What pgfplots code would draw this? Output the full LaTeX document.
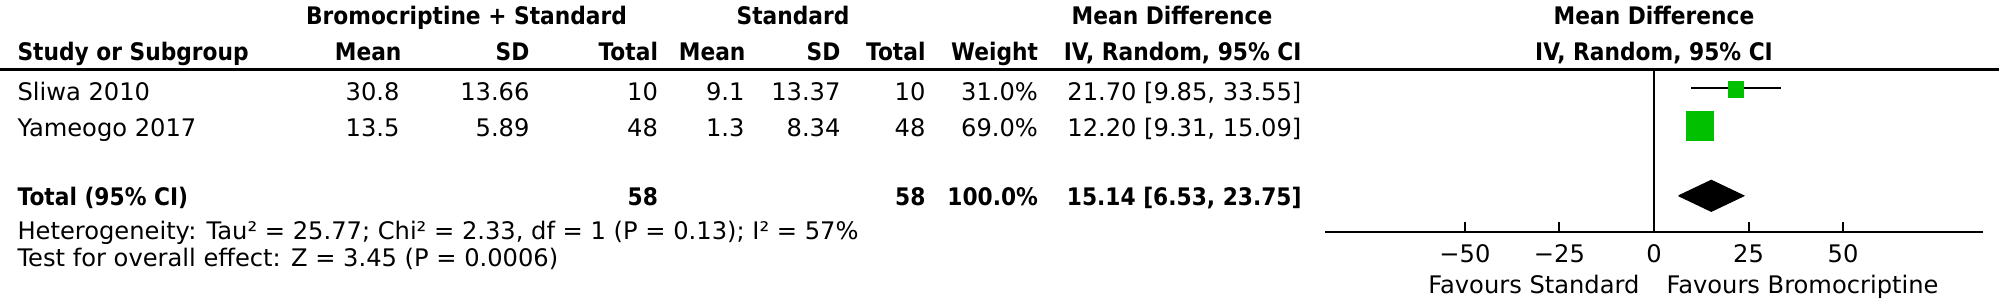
\documentclass[border=0pt]{standalone}
\usepackage{fontspec}
\setmainfont{DejaVu Sans}[BoldFeatures={FakeStretch=0.9}]
\usepackage{pgfplots}
\pgfplotsset{compat=1.18}
\definecolor{boxgreen}{RGB}{0,192,0}
\tikzset{
  txt/.style={inner sep=0pt, font=\fontsize{8.7}{10}\selectfont},
  bt/.style={inner sep=0pt, font=\fontsize{8.7}{10}\selectfont\bfseries},
  L/.style={anchor=base west}, R/.style={anchor=base east}, C/.style={anchor=base},
}
\begin{document}
\begin{tikzpicture}
\begin{scope}[x=0.36pt,y=-0.36pt]
\path[use as bounding box] (0,0) rectangle (1999,305);
\draw[line width=0.95pt] (0,69.5) -- (1999,69.5);
% header row 1
\node[bt,C] at (466.5,25) {Bromocriptine + Standard};
\node[bt,C] at (793,25) {Standard};
\node[bt,C] at (1172,25) {Mean Difference};
\node[bt,C] at (1654,25) {Mean Difference};
% header row 2
\node[bt,L] at (17,60) {Study or Subgroup};
\node[bt,R] at (402,60) {Mean};
\node[bt,R] at (530,60) {SD};
\node[bt,R] at (658.5,60) {Total};
\node[bt,R] at (746,60) {Mean};
\node[bt,R] at (841,60) {SD};
\node[bt,R] at (926,60) {Total};
\node[bt,R] at (1038.5,60) {Weight};
\node[bt,R] at (1302,60) {IV, Random, 95\% CI};
\node[bt,C] at (1654,60) {IV, Random, 95\% CI};
% study rows
\node[txt,L] at (17,100.5) {Sliwa 2010};
\node[txt,R] at (400,100.5) {30.8};
\node[txt,R] at (530,100.5) {13.66};
\node[txt,R] at (658.5,100.5) {10};
\node[txt,R] at (745,100.5) {9.1};
\node[txt,R] at (841,100.5) {13.37};
\node[txt,R] at (926,100.5) {10};
\node[txt,R] at (1038.5,100.5) {31.0\%};
\node[txt,R] at (1302,100.5) {21.70 [9.85, 33.55]};
\node[txt,L] at (17,136.5) {Yameogo 2017};
\node[txt,R] at (400,136.5) {13.5};
\node[txt,R] at (530,136.5) {5.89};
\node[txt,R] at (658.5,136.5) {48};
\node[txt,R] at (745,136.5) {1.3};
\node[txt,R] at (841,136.5) {8.34};
\node[txt,R] at (926,136.5) {48};
\node[txt,R] at (1038.5,136.5) {69.0\%};
\node[txt,R] at (1302,136.5) {12.20 [9.31, 15.09]};
% total row
\node[bt,L] at (17,205) {Total (95\% CI)};
\node[bt,R] at (658.5,205) {58};
\node[bt,R] at (926,205) {58};
\node[bt,R] at (1038.5,205) {100.0\%};
\node[bt,R] at (1302,205) {15.14 [6.53, 23.75]};
% footer
\node[txt,L] at (17,239) {Heterogeneity: Tau² = 25.77; Chi² = 2.33, df = 1 (P = 0.13); I² = 57\%};
\node[txt,L] at (17,266) {Test for overall effect: Z = 3.45 (P = 0.0006)};
\node[txt,R] at (1640,293) {Favours Standard};
\node[txt,L] at (1666,293) {Favours Bromocriptine};
\end{scope}
\begin{axis}[
  at={(477pt,-83.52pt)}, anchor=south west,
  scale only axis, width=236.88pt, height=58.5pt,
  xmin=-87, xmax=87, ymin=-232, ymax=-69.5,
  axis x line*=bottom, axis y line=none, ytick=\empty,
  clip=false,
  xtick={-50,-25,0,25,50}, xticklabels={−50,−25,0,25,50},
  tick align=inside, major tick length=3.6pt,
  x axis line style={line width=0.72pt},
  every tick/.style={black, line width=0.72pt},
  xticklabel style={inner sep=0pt, font=\fontsize{8.7}{10}\selectfont, anchor=base, yshift=-11.05pt},
]
% line of no effect
\addplot[black, line width=0.72pt, mark=none] coordinates {(0,-69.5) (0,-232)};
% confidence intervals
\addplot[black, line width=0.72pt, mark=none] coordinates {(9.85,-87.7) (33.55,-87.7)};
\addplot[black, line width=0.72pt, mark=none] coordinates {(9.31,-126) (15.09,-126)};
% study boxes
\addplot[only marks, mark=square*, mark size=2.6pt, mark options={draw=boxgreen, fill=boxgreen, yscale=1.09}] coordinates {(21.70,-89.8)};
\addplot[only marks, mark=square*, mark size=4.8pt, mark options={draw=boxgreen, fill=boxgreen, yscale=1.1}] coordinates {(12.20,-126)};
% pooled diamond
\addplot[fill=black, draw=black, mark=none] coordinates {(6.53,-195.8) (15.14,-180.3) (23.75,-195.8) (15.14,-211.3) (6.53,-195.8)};
\end{axis}
\end{tikzpicture}
\end{document}
